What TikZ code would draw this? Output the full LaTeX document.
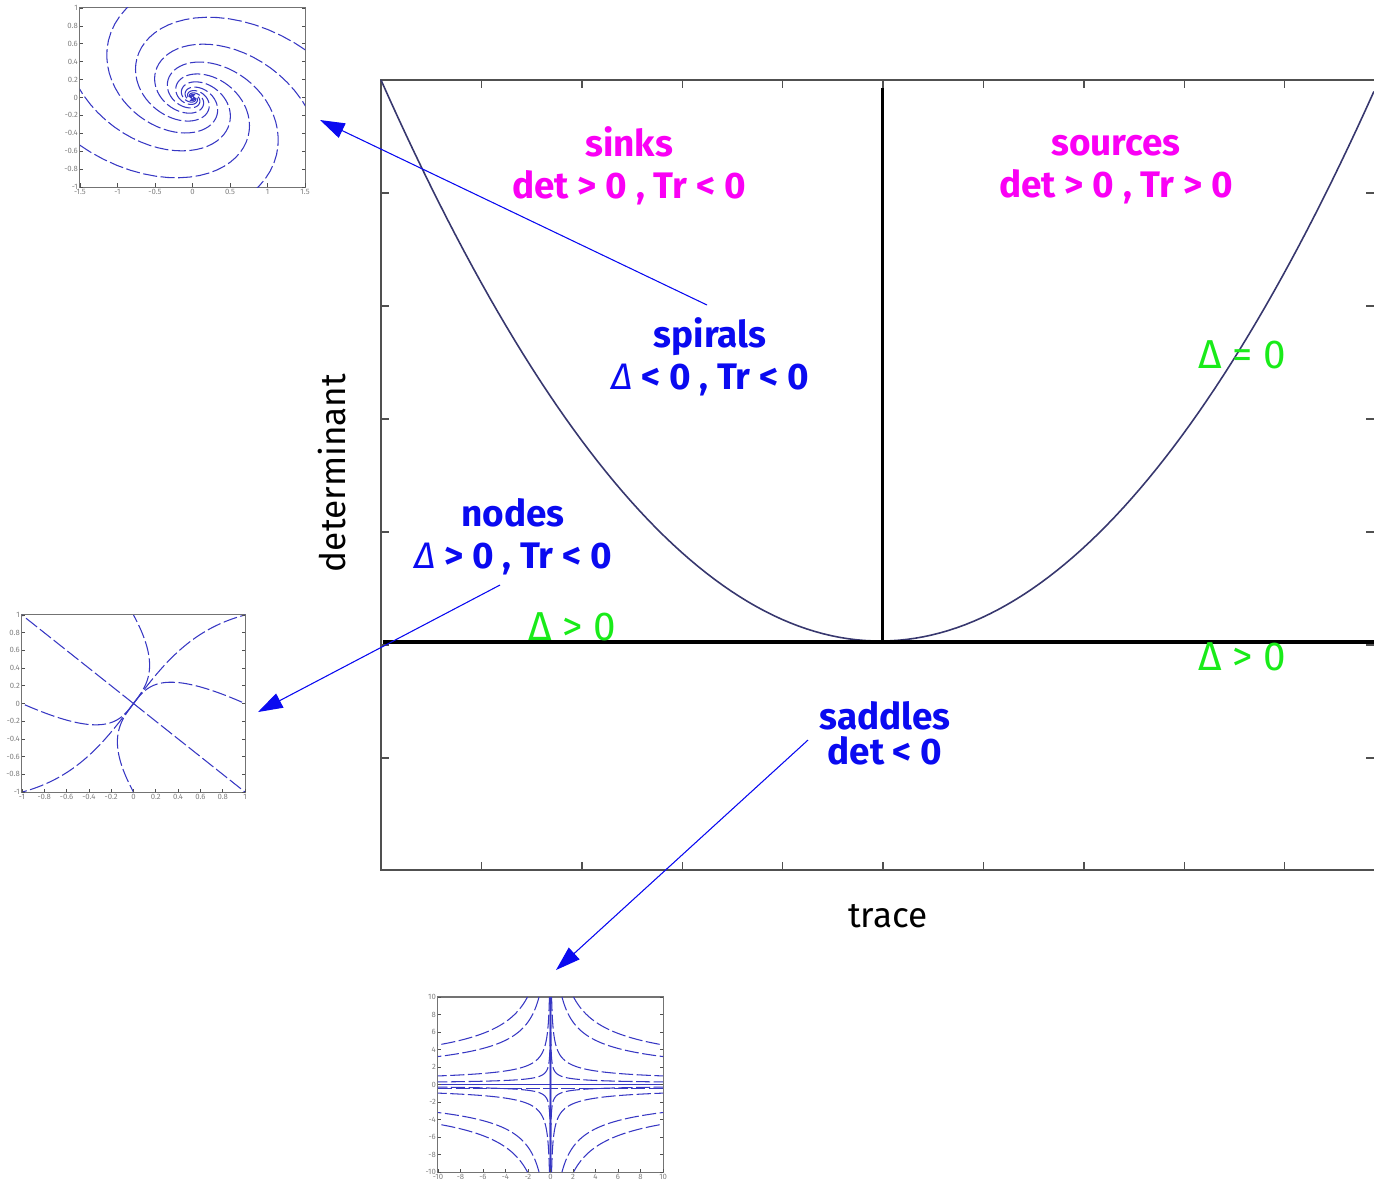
\documentclass[tikz,border=0pt]{standalone}
\usepackage{fontspec}
\setmainfont{Fira Sans}
\usetikzlibrary{arrows.meta,positioning}
\definecolor{sinkpink}{RGB}{250,0,245}
\definecolor{typeblue}{RGB}{10,10,240}
\definecolor{deltagreen}{RGB}{25,235,25}
\definecolor{curvenavy}{RGB}{55,55,110}
\definecolor{trajblue}{RGB}{55,55,195}
\definecolor{axisgray}{RGB}{80,80,80}
\tikzset{
  regionlbl/.style={align=center,inner sep=0pt,font=\fontsize{10.5}{12}\selectfont\bfseries},
  sinklbl/.style={regionlbl,text=sinkpink},
  typelbl/.style={regionlbl,text=typeblue},
  deltalbl/.style={inner sep=0pt,text=deltagreen,font=\fontsize{11.5}{13}\selectfont},
  axislbl/.style={inner sep=0pt,font=\fontsize{10}{12}\selectfont},
  frameline/.style={draw=axisgray,line width=0.45pt},
  tickmark/.style={draw=axisgray,line width=0.4pt},
  heavyline/.style={draw=black,line width=1.1pt},
  pointer/.style={-{Triangle[length=7pt,width=4.5pt]},draw=typeblue,fill=typeblue,line width=0.3pt},
  traj/.style={draw=trajblue,line width=0.3pt,dash pattern=on 4pt off 1pt},
  insetframe/.style={draw=axisgray!80,line width=0.3pt},
  ticklbl/.style={inner sep=0.4pt,text=gray,font=\fontsize{2.2}{2.4}\selectfont}
}
\newcommand{\itdelta}{{\mdseries\itshape Δ}}

\begin{document}
\begin{tikzpicture}[x=0.01cm,y=-0.01cm]
  \useasboundingbox (0,0) rectangle (1374,1178);

  % trace-determinant plane
  \draw[frameline] (1374,80) -- (381,80) -- (381,870) -- (1374,870);
  \foreach \k in {1,...,9} {
    \draw[tickmark] ({381+100.4*\k},80) -- ++(0,8);
    \draw[tickmark] ({381+100.4*\k},870) -- ++(0,-8);
  }
  \foreach \k in {1,...,6} {
    \draw[tickmark] (381,{80+113*\k}) -- ++(8,0);
    \draw[tickmark] (1374,{80+113*\k}) -- ++(-8,0);
  }
  \draw[curvenavy,line width=0.45pt] plot[domain=-4.99:4.94,samples=120,variable=\u]
    ({880+100*\u},{641-22.53*\u*\u});
  \draw[heavyline,line width=0.85pt] (882,88) -- (882,642);
  \draw[heavyline] (383,642) -- (1374,642);

  \node[sinklbl] (sinks) at (629,166) {sinks\\det > 0 , Tr < 0};
  \node[sinklbl] (sources) at (1116,170) {sources\\det > 0 , Tr > 0};
  \node[typelbl] (spirals) at (710,357) {spirals\\\itdelta{} < 0 , Tr < 0};
  \node[typelbl] (nodes) at (513,537) {nodes\\\itdelta{} > 0 , Tr < 0};
  \node[typelbl] (saddles) at (885,733) {saddles\\[-2pt]det < 0};
  \node[deltalbl] (dpos1) at (572,627) {Δ > 0};
  \node[deltalbl] (dzero) at (1242,355) {Δ = 0};
  \node[deltalbl] (dpos2) at (1242,657) {Δ > 0};
  \node[axislbl,rotate=90] (detlbl) at (332,473) {determinant};
  \node[axislbl] (trlbl) at (888,916) {trace};

  % spiral sink
  \begin{scope}[shift={(192.5,97.5)},x=0.75cm,y=0.895cm]
    \draw[insetframe] (-1.5,-1) rectangle (1.5,1);
    \begin{scope}
      \clip (-1.5,-1) rectangle (1.5,1);
      \foreach \ph in {0,60,...,300}
        \draw[traj] plot[domain=0:760,samples=130,variable=\t]
          ({2.4*exp(-0.0068*\t)*cos(\t+\ph)},
           {2.4*exp(-0.0068*\t)*(0.68*sin(\t+\ph)-0.15*cos(\t+\ph))});
    \end{scope}
    \foreach \v in {1,0.8,0.6,0.4,0.2,0,-0.2,-0.4,-0.6,-0.8,-1} {
      \draw[tickmark,line width=0.2pt] (-1.5,\v) -- ++(0.04,0);
      \draw[tickmark,line width=0.2pt] (1.5,\v) -- ++(-0.04,0);
      \node[ticklbl,anchor=east] at (-1.5,\v) {\v};
    }
    \foreach \v in {-1.5,-1,-0.5,0,0.5,1,1.5} {
      \draw[tickmark,line width=0.2pt] (\v,-1) -- ++(0,0.04);
      \node[ticklbl,anchor=north] at (\v,-1) {\v};
    }
  \end{scope}

  % stable node
  \begin{scope}[shift={(133.5,703.5)},x=1.115cm,y=0.885cm]
    \draw[insetframe] (-1,-1) rectangle (1,1);
    \begin{scope}
      \clip (-1,-1) rectangle (1,1);
      \foreach \a/\b in {0/-1,0/1,1.25/0.25,-1.25/-0.25,0.625/-0.375,-0.625/0.375,-0.625/-0.625,0.625/0.625}
        \draw[traj] plot[domain=0:1,samples=50,variable=\s] ({0.6*\a*\s+\b*\s^3},{\a*\s-\b*\s^3});
    \end{scope}
    \foreach \v in {1,0.8,0.6,0.4,0.2,0,-0.2,-0.4,-0.6,-0.8,-1} {
      \draw[tickmark,line width=0.2pt] (-1,\v) -- ++(0.03,0);
      \draw[tickmark,line width=0.2pt] (1,\v) -- ++(-0.03,0);
      \node[ticklbl,anchor=east] at (-1,\v) {\v};
    }
    \foreach \v in {-1,-0.8,-0.6,-0.4,-0.2,0,0.2,0.4,0.6,0.8,1} {
      \draw[tickmark,line width=0.2pt] (\v,-1) -- ++(0,0.04);
      \node[ticklbl,anchor=north] at (\v,-1) {\v};
    }
  \end{scope}

  % saddle
  \begin{scope}[shift={(550.5,1084.5)},x=0.1125cm,y=0.0875cm]
    \draw[insetframe] (-10,-10) rectangle (10,10);
    \begin{scope}
      \clip (-10,-10) rectangle (10,10);
      \draw[trajblue!45,line width=0.9pt] (0,-10) -- (0,10);
      \draw[trajblue,line width=0.3pt] (0,-10) -- (0,10);
      \draw[trajblue,line width=0.35pt] (-10,0) -- (10,0);
      \draw[traj] (-10,-0.4) -- (10,-0.4);
      \foreach \c/\u in {14.3/0.715,10.1/0.02,3.1/-2.342,0.93/-4.75}
        \foreach \sx in {-1,1}
          \foreach \sy in {-1,1}
            \draw[traj] plot[domain=\u:2.31,samples=60,variable=\w]
              ({\sx*exp(\w)},{\sy*\c*exp(-\w/2)});
    \end{scope}
    \foreach \v in {10,8,6,4,2,0,-2,-4,-6,-8,-10} {
      \draw[tickmark,line width=0.2pt] (-10,\v) -- ++(0.3,0);
      \draw[tickmark,line width=0.2pt] (10,\v) -- ++(-0.3,0);
      \node[ticklbl,anchor=east] at (-10,\v) {\v};
    }
    \foreach \v in {-10,-8,-6,-4,-2,0,2,4,6,8,10} {
      \draw[tickmark,line width=0.2pt] (\v,-10) -- ++(0,0.4);
      \node[ticklbl,anchor=north] at (\v,-10) {\v};
    }
  \end{scope}

  % pointers to the portraits
  \coordinate (spTail) at (707,305);
  \coordinate (spHead) at (320,120);
  \coordinate (ndTail) at (500,585);
  \coordinate (ndHead) at (258,712);
  \coordinate (sdTail) at (808,740);
  \coordinate (sdHead) at (556,970);
  \draw[pointer] (spTail) -- (spHead);
  \draw[pointer] (ndTail) -- (ndHead);
  \draw[pointer] (sdTail) -- (sdHead);
\end{tikzpicture}
\end{document}
